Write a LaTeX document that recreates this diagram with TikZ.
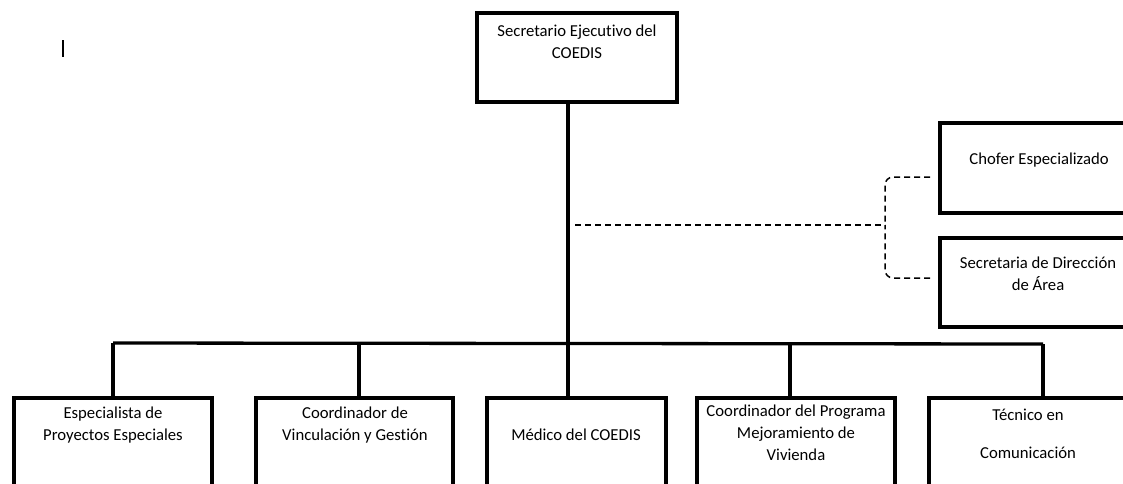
\documentclass[tikz,border=0pt]{standalone}
\usepackage{fontspec}
\setmainfont{Carlito}[Ligatures=NoCommon]
\begin{document}
\begin{tikzpicture}[x=1pt,y=-1pt,
  box/.style={draw=black, line width=3.3pt, fill=white, inner sep=0pt},
  lbl/.style={align=center, inner sep=0pt, font=\fontsize{16.7}{22}\selectfont},
  conn/.style={draw=black, line width=3.3pt},
  dconn/.style={draw=black, line width=1.5pt, dash pattern=on 6pt off 4pt, rounded corners=8pt}]
\useasboundingbox (0,0) rectangle (1123,483);
% boxes
\node[box, minimum width=200pt, minimum height=89pt] (top) at (577,57.5) {};
\node[box, minimum width=198pt, minimum height=90pt] (chofer) at (1039,168) {};
\node[box, minimum width=196pt, minimum height=89pt] (secre) at (1038,282.5) {};
\node[box, minimum width=198pt, minimum height=120pt] (b1) at (113,458) {};
\node[box, minimum width=197pt, minimum height=120pt] (b2) at (354.5,458) {};
\node[box, minimum width=179pt, minimum height=120pt] (b3) at (576.5,458) {};
\node[box, minimum width=198pt, minimum height=120pt] (b4) at (796,458) {};
\node[box, minimum width=198pt, minimum height=120pt] (b5) at (1028,458) {};
% labels
\node[lbl] (ttop) at (577,41.5) {Secretario Ejecutivo del\\COEDIS};
\node[lbl] (tchofer) at (1039,160) {Chofer Especializado};
\node[lbl] (tsecre) at (1038,274) {Secretaria de Dirección\\de Área};
\node[lbl] (tb1) at (113,425.5) {Especialista de\\Proyectos Especiales};
\node[lbl] (tb2) at (355,425.5) {Coordinador de\\Vinculación y Gestión};
\node[lbl] (tb3) at (576,435) {Médico del COEDIS};
\node[lbl] (tb4) at (796,433) {Coordinador del Programa\\Mejoramiento de\\Vivienda};
\node[lbl] (tb5) at (1028,434) {Técnico en\\[16pt]Comunicación};
% junctions
\coordinate (j1) at (113,343);
\coordinate (j2) at (359,343);
\coordinate (j3) at (568,343);
\coordinate (j4) at (790,343.5);
\coordinate (j5) at (1043,344);
% solid connectors
\draw[conn] (j1) -- (j5);
\draw[conn] (top.south -| j3) -- (j3 |- b3.north);
\draw[conn] (j1) -- (j1 |- b1.north);
\draw[conn] (j2) -- (j2 |- b2.north);
\draw[conn] (j4) -- (j4 |- b4.north);
\draw[conn] (j5) -- (j5 |- b5.north);
% dashed connectors
\coordinate (dstart) at (575,225);
\coordinate (dmid) at (885,225);
\coordinate (dtop) at (930,177);
\coordinate (dbot) at (930,278);
\draw[dconn] (dstart) -- (dmid);
\draw[dconn] (dtop) -| (dmid);
\draw[dconn] (dbot) -| (dmid);
% text cursor mark
\coordinate (c1) at (63,40);
\coordinate (c2) at (63,57);
\draw[line width=1.3pt] (c1) -- (c2);
\end{tikzpicture}
\end{document}
